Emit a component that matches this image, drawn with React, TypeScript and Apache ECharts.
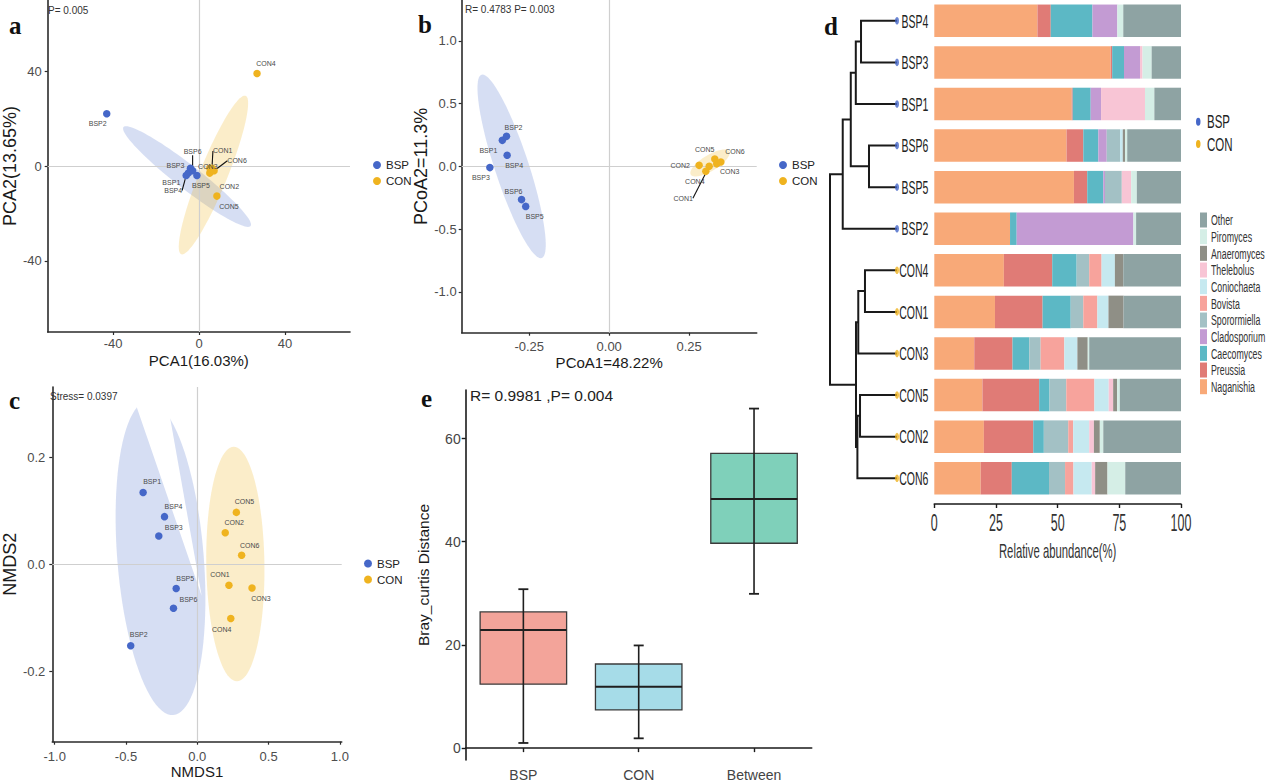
import React, { useEffect, useRef } from 'react';
import * as echarts from 'echarts';

// ---------------- fonts & colours ----------------
const FONT = "'Liberation Sans', Arial, Helvetica, sans-serif";
const SERIF = "'Liberation Serif', 'DejaVu Serif', 'Times New Roman', serif";
const BSP_COLOR = '#4567C8';
const CON_COLOR = '#EFB31F';
const BSP_FILL = 'rgba(69,103,200,0.22)';
const CON_FILL = 'rgba(239,179,31,0.24)';

// ---------------- sample names ----------------
const bspNames = ['BSP1', 'BSP2', 'BSP3', 'BSP4', 'BSP5', 'BSP6'];
const conNames = ['CON1', 'CON2', 'CON3', 'CON4', 'CON5', 'CON6'];
const groupNames = ['BSP', 'CON'];

// ---------------- panel a : PCA ----------------
const pcaBSP = [[-5, -3], [-43, 22], [-4, -1], [-6, -4], [-1, -4], [-3, -2]];
const pcaCON = [[6, -1], [5, -3], [5, -1], [27, 39], [8.3, -12.7], [7, -2]];
// ellipse: centre x, centre y, semi-diameter u (x,y), conjugate semi-diameter v (x,y)
const pcaEllipseBSP = [-5.6, -4.45, 29.6, -20.85, -3.4, -4.0];
const pcaEllipseCON = [6.7, -3.8, 15, 33.4, 6.0, -2.2];

// ---------------- panel b : PCoA ----------------
const pcoaBSP = [[-0.334, 0.207], [-0.321, 0.239], [-0.373, -0.01], [-0.319, 0.088], [-0.261, -0.319], [-0.274, -0.265]];
const pcoaCON = [[0.3125, 0.0], [0.281, 0.008], [0.336, 0.02], [0.302, -0.04], [0.33, 0.059], [0.349, 0.035]];
const pcoaEllipseBSP = [-0.305, 0.0, 0.094, -0.73, 0.0505, 0.042];
const pcoaEllipseCON = [0.315, 0.027, 0.06, 0.093, 0.013, -0.054];

// ---------------- panel c : NMDS ----------------
const nmdsBSP = [[-0.38, 0.134], [-0.467, -0.152], [-0.27, 0.053], [-0.23, 0.089], [-0.148, -0.045], [-0.167, -0.082]];
const nmdsCON = [[0.222, -0.039], [0.196, 0.059], [0.384, -0.044], [0.235, -0.101], [0.274, 0.097], [0.311, 0.017]];
const nmdsEllipseBSP = [-0.258, 0.0118, 0.0895, -0.293, 0.302, 0.0068];
const nmdsEllipseCON = [0.267, 0.0006, -0.011, 0.219, 0.204, 0];
const nmdsEllipseGap = [[-0.485, 0.34], [-0.235, 0.34], [0.031, -0.059]];

// ---------------- panel e : Bray-Curtis boxplot ----------------
const boxCategories = ['BSP', 'CON', 'Between'];
// [min, Q1, median, Q3, max]
const boxBSP = [1.0, 12.4, 22.9, 26.4, 30.8];
const boxCON = [1.9, 7.4, 11.9, 16.3, 19.9];
const boxBetween = [29.9, 39.7, 48.3, 57.1, 65.8];
const boxColors = ['#F3A49A', '#A6DCE8', '#7FD0BA'];

// ---------------- panel d : stacked bars + dendrogram ----------------
const barSamples = ['BSP4', 'BSP3', 'BSP1', 'BSP6', 'BSP5', 'BSP2', 'CON4', 'CON1', 'CON3', 'CON5', 'CON2', 'CON6'];
const naganishia = [41.8, 71.5, 55.7, 53.6, 56.6, 30.7, 28.2, 24.6, 16.2, 19.5, 20.1, 18.8];
const preussia = [5.4, 0.6, 0.4, 6.8, 5.4, 0, 19.6, 19.3, 15.5, 23.0, 20.0, 12.6];
const caecomyces = [16.9, 4.8, 7.3, 6.1, 6.5, 2.7, 9.9, 11.4, 6.8, 4.2, 4.3, 15.1];
const cladosporium = [10.1, 6.5, 4.2, 3.4, 0.7, 47.3, 0, 0, 0, 0, 0, 0];
const sporormiella = [0, 0, 0, 5.4, 6.8, 0, 5.1, 5.1, 4.6, 6.8, 9.9, 6.5];
const bovista = [0, 0, 0, 0, 0, 0, 5.0, 5.7, 9.6, 11.4, 2.0, 3.4];
const coniochaeta = [0, 0, 0, 1.1, 0, 0, 5.4, 4.5, 5.3, 5.8, 6.5, 7.4];
const thelebolus = [0, 1.0, 17.8, 0, 3.8, 0, 0, 0, 0, 1.8, 1.9, 1.4];
const anaeromyces = [0, 0, 0, 0.9, 0, 0, 3.4, 6.1, 4.2, 1.6, 2.4, 5.0];
const piromyces = [2.4, 3.7, 3.8, 0.9, 2.3, 1.1, 0, 0, 0.6, 1.1, 1.4, 7.2];
const other = [23.4, 11.9, 10.8, 21.8, 17.9, 18.2, 23.4, 23.3, 37.2, 24.8, 31.5, 22.6];
const genusNames = ['Naganishia', 'Preussia', 'Caecomyces', 'Cladosporium', 'Sporormiella', 'Bovista', 'Coniochaeta', 'Thelebolus', 'Anaeromyces', 'Piromyces', 'Other'];
const genusValues = [naganishia, preussia, caecomyces, cladosporium, sporormiella, bovista, coniochaeta, thelebolus, anaeromyces, piromyces, other];
const genusColors = ['#F8A978', '#E07B76', '#5CB8C5', '#C39BD3', '#A3C1C5', '#F7A39C', '#C6E9F0', '#F8C5D5', '#8F8F86', '#D5EEE6', '#8EA3A3'];
const xTicksAbund = [0, 25, 50, 75, 100];
// hierarchical clustering merges: [child A, child B, height] (m<k> = k-th merge)
const dendroMerges: [string, string, number][] = [
  ['BSP4', 'BSP3', 0.537],
  ['m0', 'BSP1', 0.615],
  ['BSP6', 'BSP5', 0.418],
  ['m1', 'm2', 0.69],
  ['m3', 'BSP2', 0.81],
  ['CON4', 'CON1', 0.478],
  ['m5', 'CON3', 0.578],
  ['CON5', 'CON2', 0.552],
  ['m7', 'CON6', 0.591],
  ['m6', 'm8', 0.612],
  ['m4', 'm9', 1.0],
];

// ---------------- label placement (style, not data) ----------------
const pcaLabelOffsets: Record<string, number[]> = {
  BSP1: [-17, 9.5], BSP2: [-9, 10], BSP3: [-15, -3], BSP4: [-13, 15], BSP5: [4, 10], BSP6: [0, -19],
  CON1: [10.7, -17.4], CON2: [19.5, 13.5], CON3: [-2, -2], CON4: [9, -10], CON5: [12, 10.5], CON6: [23, -10],
};
const pcaLeaders = ['BSP4', 'BSP6', 'CON1', 'CON6'];
const pcoaLabelOffsets: Record<string, number[]> = {
  BSP1: [-14, 10], BSP2: [7, -9], BSP3: [-9, 10], BSP4: [7, 10], BSP5: [9, 10], BSP6: [-8, -8],
  CON1: [-26, 32], CON2: [-19, 0], CON3: [13, 8], CON4: [-11, 10], CON5: [-10, -9], CON6: [14, -10],
};
const pcoaLeaders = ['CON1'];
const nmdsLabelOffsets: Record<string, number[]> = {
  BSP1: [9, -11], BSP2: [8, -11], BSP3: [15, -8], BSP4: [9, -10], BSP5: [9, -10], BSP6: [15, -9],
  CON1: [-9, -11], CON2: [9, -10], CON3: [9, 11], CON4: [-9, 11], CON5: [8, -11], CON6: [8, -10],
};

// legend layout for panel d (legend texts are drawn stretched like the reference)
const D_GROUP_LEGEND = { left: 1196, top: 117.7, itemH: 8, gap: 14.3 };
const D_GENUS_LEGEND = { left: 1200, top: 212.5, itemH: 15, gap: 1.67 };

// ---------------- helpers ----------------
function ellipseSeries(idx: number, params: number[], fill: string) {
  return {
    type: 'custom', xAxisIndex: idx, yAxisIndex: idx, z: 1, silent: true, clip: true,
    data: [params],
    encode: { x: 0, y: 1 },
    renderItem: (_p: any, api: any) => {
      const cx = api.value(0), cy = api.value(1), ux = api.value(2), uy = api.value(3), vx = api.value(4), vy = api.value(5);
      const pts: number[][] = [];
      for (let i = 0; i < 96; i++) {
        const t = (i / 96) * Math.PI * 2;
        pts.push(api.coord([cx + ux * Math.cos(t) + vx * Math.sin(t), cy + uy * Math.cos(t) + vy * Math.sin(t)]));
      }
      return { type: 'polygon', shape: { points: pts }, style: { fill, stroke: 'none' } };
    },
  };
}

function polygonSeries(idx: number, poly: number[][], fill: string) {
  return {
    type: 'custom', xAxisIndex: idx, yAxisIndex: idx, z: 1.5, silent: true, clip: true,
    data: [[poly[0][0], poly[0][1]]],
    encode: { x: 0, y: 1 },
    renderItem: (_p: any, api: any) => ({
      type: 'polygon', shape: { points: poly.map((p) => api.coord(p)) }, style: { fill, stroke: 'none' },
    }),
  };
}

function scatterSeries(name: string, idx: number, names: string[], coords: number[][], color: string,
  offsets: Record<string, number[]>, leaders: string[], withRef: boolean) {
  const s: any = {
    type: 'scatter', name, xAxisIndex: idx, yAxisIndex: idx, z: 10,
    symbolSize: 7.5, itemStyle: { color, opacity: 1 },
    data: coords.map((c, i) => ({ name: names[i], value: c, labelLine: { show: leaders.includes(names[i]) } })),
    label: { show: true, position: 'inside', formatter: '{b}', color: '#4a4a4a', fontSize: 7, fontFamily: FONT, textBorderWidth: 0 },
    labelLine: { show: false, lineStyle: { color: '#111', width: 1.1 } },
    labelLayout: (p: any) => {
      const o = offsets[p.text];
      return o ? { dx: o[0], dy: o[1] } : {};
    },
  };
  if (withRef) {
    s.markLine = {
      silent: true, z: 3, symbol: ['none', 'none'], label: { show: false }, animation: false,
      lineStyle: { color: '#cfcfcf', width: 1.2, type: 'solid' },
      data: [{ xAxis: 0 }, { yAxis: 0 }],
    };
  }
  return s;
}

function valueAxis(idx: number, min: number, max: number, ticks: number[], digits: number, name: string,
  nameGap: number, nameSize: number, labelMargin: number) {
  return {
    type: 'value', gridIndex: idx, min, max, scale: false,
    axisLine: { show: true, onZero: false, lineStyle: { color: '#2b2b2b', width: 1.6 } },
    axisTick: { show: true, customValues: ticks, length: 3, lineStyle: { color: '#2b2b2b', width: 1.2 } },
    axisLabel: {
      customValues: ticks, color: '#4d4d4d', fontSize: 13, fontFamily: FONT, margin: labelMargin,
      formatter: (v: number) => (digits === 0 ? String(Math.round(v)) : v.toFixed(digits)),
    },
    splitLine: { show: false },
    name, nameLocation: 'middle', nameGap,
    nameTextStyle: { fontSize: nameSize, color: '#1a1a1a', fontFamily: FONT },
  };
}

function buildDendro() {
  const pos: Record<string, number> = {};
  const hgt: Record<string, number> = {};
  barSamples.forEach((s, i) => { pos[s] = i; hgt[s] = 0; });
  const segs: any[] = [];
  dendroMerges.forEach(([a, b, h], k) => {
    segs.push({ coords: [[hgt[a], pos[a]], [h, pos[a]], [h, pos[b]], [hgt[b], pos[b]]] });
    pos['m' + k] = (pos[a] + pos[b]) / 2;
    hgt['m' + k] = h;
  });
  return segs;
}

function groupLegend(left: number, top: number, gap: number) {
  return {
    left, top, padding: 0, orient: 'vertical', itemWidth: 8, itemHeight: 8, itemGap: gap, icon: 'circle',
    data: groupNames, selectedMode: false,
    textStyle: { fontSize: 11.5, fontFamily: FONT, color: '#222' },
  };
}

function plainText(text: string, x: number, y: number, size: number, fill: string, bold = false, family = FONT) {
  return {
    type: 'text', x, y, silent: true,
    style: { text, font: `${bold ? 'bold ' : ''}${size}px ${family}`, fill, textVerticalAlign: 'middle', verticalAlign: 'middle' },
  };
}

// text drawn tall and narrow, as the reference's panel d was stretched vertically
function tallText(text: string, x: number, y: number, size: number, sy: number, align: string, fill: string) {
  return {
    type: 'text', x, y, scaleY: sy, silent: true,
    style: { text, x: 0, y: 0, font: `${size}px ${FONT}`, fill, textAlign: align, align, textVerticalAlign: 'middle', verticalAlign: 'middle' },
  };
}

function baseGraphics() {
  return [
    plainText('a', 9, 25, 25, '#111', true, SERIF),
    plainText('b', 418, 24, 25, '#111', true, SERIF),
    plainText('c', 9, 400, 25, '#111', true, SERIF),
    plainText('e', 421, 398, 25, '#111', true, SERIF),
    plainText('d', 824, 26, 25, '#111', true, SERIF),
    plainText('P= 0.005', 48, 10, 10, '#333'),
    plainText('R= 0.4783 P= 0.003', 465, 9, 10, '#333'),
    plainText('Stress= 0.0397', 50, 396, 10, '#333'),
    plainText('R= 0.9981 ,P= 0.004', 470, 395, 15.5, '#222'),
  ];
}

function buildOption() {
  const boxStats = [boxBSP, boxCON, boxBetween];
  const tipBSP = barSamples.map((s, i) => (s.startsWith('BSP') ? [0, i] : null)).filter(Boolean);
  const tipCON = barSamples.map((s, i) => (s.startsWith('CON') ? [0, i] : null)).filter(Boolean);

  return {
    animation: false,
    backgroundColor: '#ffffff',
    grid: [
      { left: 45, top: 0, width: 305, height: 332 },          // a
      { left: 461.7, top: 0, width: 295, height: 332.7 },     // b
      { left: 46.7, top: 387, width: 295, height: 354.7 },    // c
      { left: 465.7, top: 390, width: 346, height: 370 },     // e
      { left: 934.3, top: -1, width: 246.7, height: 500 },    // d bars
      { left: 830, top: -1, width: 67, height: 500 },         // d dendrogram
    ],
    xAxis: [
      valueAxis(0, -70.5, 70.3, [-40, 0, 40], 0, 'PCA1(16.03%)', 21, 15, 5),
      valueAxis(1, -0.461, 0.461, [-0.25, 0, 0.25], 2, 'PCoA1=48.22%', 22, 15, 7),
      valueAxis(2, -1.017, 1.013, [-1, -0.5, 0, 0.5, 1], 1, 'NMDS1', 17, 15, 8),
      {
        type: 'category', gridIndex: 3, data: boxCategories, boundaryGap: true,
        axisLine: { show: true, lineStyle: { color: '#1a1a1a', width: 1.6 } },
        axisTick: { show: true, alignWithLabel: true, length: 4, lineStyle: { color: '#1a1a1a', width: 1.4 } },
        axisLabel: { color: '#444', fontSize: 14, fontFamily: FONT, margin: 8 },
      },
      {
        type: 'value', gridIndex: 4, min: 0, max: 100, interval: 25, offset: 5,
        axisLine: { show: true, lineStyle: { color: '#1a1a1a', width: 1.6 } },
        axisTick: { show: true, length: 4, lineStyle: { color: '#1a1a1a', width: 1.4 } },
        axisLabel: { show: false },
        splitLine: { show: false },
      },
      { type: 'value', gridIndex: 5, min: 0, max: 1, inverse: true, show: false },
    ],
    yAxis: [
      valueAxis(0, -70, 70, [-40, 0, 40], 0, 'PCA2(13.65%)', 20, 18, 6),
      valueAxis(1, -1.325, 1.325, [-1, -0.5, 0, 0.5, 1], 1, 'PCoA2=11.3%', 29, 18, 5),
      valueAxis(2, -0.331, 0.331, [-0.2, 0, 0.2], 1, 'NMDS2', 31, 18, 7),
      {
        type: 'value', gridIndex: 3, min: -2.3, max: 69.4,
        axisLine: { show: true, onZero: false, lineStyle: { color: '#1a1a1a', width: 1.6 } },
        axisTick: { show: true, customValues: [0, 20, 40, 60], length: 4, lineStyle: { color: '#1a1a1a', width: 1.4 } },
        axisLabel: { customValues: [0, 20, 40, 60], color: '#444', fontSize: 14, fontFamily: FONT, margin: 5 },
        splitLine: { show: false },
        name: 'Bray_curtis Distance', nameLocation: 'middle', nameGap: 34,
        nameTextStyle: { fontSize: 15.5, color: '#1a1a1a', fontFamily: FONT },
      },
      {
        type: 'category', gridIndex: 4, data: barSamples, inverse: true,
        axisLine: { show: false }, axisTick: { show: false }, axisLabel: { show: false },
      },
      { type: 'value', gridIndex: 5, min: -0.5, max: 11.5, inverse: true, show: false },
    ],
    legend: [
      groupLegend(373, 159, 4),
      groupLegend(779, 159, 4),
      groupLegend(364, 557.5, 4),
      {
        left: D_GROUP_LEGEND.left, top: D_GROUP_LEGEND.top, padding: 0, orient: 'vertical', itemWidth: 4.5, itemHeight: D_GROUP_LEGEND.itemH,
        itemGap: D_GROUP_LEGEND.gap, icon: 'path://M5,0A5,5 0 1,1 5,10A5,5 0 1,1 5,0Z', symbolKeepAspect: false,
        data: groupNames, selectedMode: false, formatter: () => '',
        textStyle: { fontSize: 6, fontFamily: FONT, color: '#222' },
      },
      {
        left: D_GENUS_LEGEND.left, top: D_GENUS_LEGEND.top, padding: 0, orient: 'vertical', itemWidth: 7, itemHeight: D_GENUS_LEGEND.itemH,
        itemGap: D_GENUS_LEGEND.gap, icon: 'rect', symbolKeepAspect: false, data: genusNames.slice().reverse(), selectedMode: false,
        formatter: () => '', textStyle: { fontSize: 8, fontFamily: FONT, color: '#333' },
      },
    ],
    series: [
      // a
      ellipseSeries(0, pcaEllipseBSP, BSP_FILL),
      ellipseSeries(0, pcaEllipseCON, CON_FILL),
      scatterSeries('BSP', 0, bspNames, pcaBSP, BSP_COLOR, pcaLabelOffsets, pcaLeaders, true),
      scatterSeries('CON', 0, conNames, pcaCON, CON_COLOR, pcaLabelOffsets, pcaLeaders, false),
      // b
      ellipseSeries(1, pcoaEllipseBSP, BSP_FILL),
      ellipseSeries(1, pcoaEllipseCON, CON_FILL),
      scatterSeries('BSP', 1, bspNames, pcoaBSP, BSP_COLOR, pcoaLabelOffsets, pcoaLeaders, true),
      scatterSeries('CON', 1, conNames, pcoaCON, CON_COLOR, pcoaLabelOffsets, pcoaLeaders, false),
      // c
      ellipseSeries(2, nmdsEllipseBSP, BSP_FILL),
      polygonSeries(2, nmdsEllipseGap, '#ffffff'),
      ellipseSeries(2, nmdsEllipseCON, CON_FILL),
      scatterSeries('BSP', 2, bspNames, nmdsBSP, BSP_COLOR, nmdsLabelOffsets, [], true),
      scatterSeries('CON', 2, conNames, nmdsCON, CON_COLOR, nmdsLabelOffsets, [], false),
      // e
      {
        type: 'custom', xAxisIndex: 3, yAxisIndex: 3, silent: true,
        data: boxStats.map((s, i) => [i, ...s]),
        encode: { x: 0, y: [1, 2, 3, 4, 5] },
        renderItem: (_p: any, api: any) => {
          const i = api.value(0);
          const v = [1, 2, 3, 4, 5].map((k) => api.value(k));
          const band = api.size([1, 0])[0];
          const bw = band * 0.75;
          const cap = 10;
          const pMin = api.coord([i, v[0]]);
          const pQ1 = api.coord([i, v[1]]);
          const pMed = api.coord([i, v[2]]);
          const pQ3 = api.coord([i, v[3]]);
          const pMax = api.coord([i, v[4]]);
          const x = pMed[0];
          return {
            type: 'group',
            children: [
              { type: 'rect', shape: { x: x - bw / 2, y: pQ3[1], width: bw, height: pQ1[1] - pQ3[1] }, style: { fill: boxColors[i], stroke: '#3b3b3b', lineWidth: 1.3 } },
              { type: 'line', shape: { x1: x, y1: pMax[1], x2: x, y2: pMin[1] }, style: { stroke: '#1f1f1f', lineWidth: 1.6 } },
              { type: 'line', shape: { x1: x - bw / 2, y1: pMed[1], x2: x + bw / 2, y2: pMed[1] }, style: { stroke: '#1f1f1f', lineWidth: 2 } },
              { type: 'line', shape: { x1: x - cap / 2, y1: pMax[1], x2: x + cap / 2, y2: pMax[1] }, style: { stroke: '#1f1f1f', lineWidth: 1.8 } },
              { type: 'line', shape: { x1: x - cap / 2, y1: pMin[1], x2: x + cap / 2, y2: pMin[1] }, style: { stroke: '#1f1f1f', lineWidth: 1.8 } },
            ],
          };
        },
      },
      // d bars
      ...genusNames.map((g, k) => ({
        type: 'bar', name: g, stack: 'abund', xAxisIndex: 4, yAxisIndex: 4, barWidth: 32.5, silent: true,
        data: genusValues[k], itemStyle: { color: genusColors[k] },
      })),
      // d dendrogram
      {
        type: 'lines', coordinateSystem: 'cartesian2d', xAxisIndex: 5, yAxisIndex: 5, polyline: true, silent: true, z: 2,
        data: buildDendro(), lineStyle: { color: '#1a1a1a', width: 2, opacity: 1 },
      },
      {
        type: 'scatter', name: 'BSP', xAxisIndex: 5, yAxisIndex: 5, z: 5, silent: true,
        symbol: 'circle', symbolSize: [4, 7.5], itemStyle: { color: BSP_COLOR }, data: tipBSP,
      },
      {
        type: 'scatter', name: 'CON', xAxisIndex: 5, yAxisIndex: 5, z: 5, silent: true,
        symbol: 'circle', symbolSize: [4, 7.5], itemStyle: { color: CON_COLOR }, data: tipCON,
      },
    ],
    graphic: { elements: baseGraphics() },
  };
}

// panel d texts, placed through the chart's own scales after the first layout
function panelDTexts(chart: any) {
  const out: any[] = [];
  const first = chart.convertToPixel({ gridIndex: 4 }, [0, 0]);
  const last = chart.convertToPixel({ gridIndex: 4 }, [0, barSamples.length - 1]);
  const band = (last[1] - first[1]) / (barSamples.length - 1);
  const axisY = last[1] + band / 2 + 5;
  barSamples.forEach((s, i) => {
    const p = chart.convertToPixel({ gridIndex: 4 }, [0, i]);
    out.push(tallText(s, p[0] - 6, p[1], 10.5, 1.75, 'right', '#222'));
  });
  xTicksAbund.forEach((v) => {
    const p = chart.convertToPixel({ gridIndex: 4 }, [v, 0]);
    out.push(tallText(String(v), p[0], axisY + 19, 12.5, 1.9, 'center', '#333'));
  });
  const mid = chart.convertToPixel({ gridIndex: 4 }, [50, 0]);
  out.push(tallText('Relative abundance(%)', mid[0], axisY + 47.5, 11.3, 1.85, 'center', '#333'));
  groupNames.forEach((g, k) => {
    const y = D_GROUP_LEGEND.top + k * (D_GROUP_LEGEND.itemH + D_GROUP_LEGEND.gap) + D_GROUP_LEGEND.itemH / 2;
    out.push(tallText(g, D_GROUP_LEGEND.left + 11, y, 11.5, 1.55, 'left', '#222'));
  });
  genusNames.slice().reverse().forEach((g, k) => {
    const y = D_GENUS_LEGEND.top + k * (D_GENUS_LEGEND.itemH + D_GENUS_LEGEND.gap) + D_GENUS_LEGEND.itemH / 2;
    out.push(tallText(g, D_GENUS_LEGEND.left + 11, y, 8.8, 1.6, 'left', '#333'));
  });
  return out;
}

export default function App() {
  const ref = useRef<HTMLDivElement>(null);
  useEffect(() => {
    if (!ref.current) return;
    const chart = echarts.init(ref.current, null, { renderer: 'svg' });
    chart.setOption(buildOption() as any);
    chart.setOption({ graphic: { elements: [...baseGraphics(), ...panelDTexts(chart)] } } as any);
    return () => chart.dispose();
  }, []);
  return <div ref={ref} style={{ position: 'fixed', left: 0, top: 0, width: 1268, height: 784, background: '#fff' }} />;
}
